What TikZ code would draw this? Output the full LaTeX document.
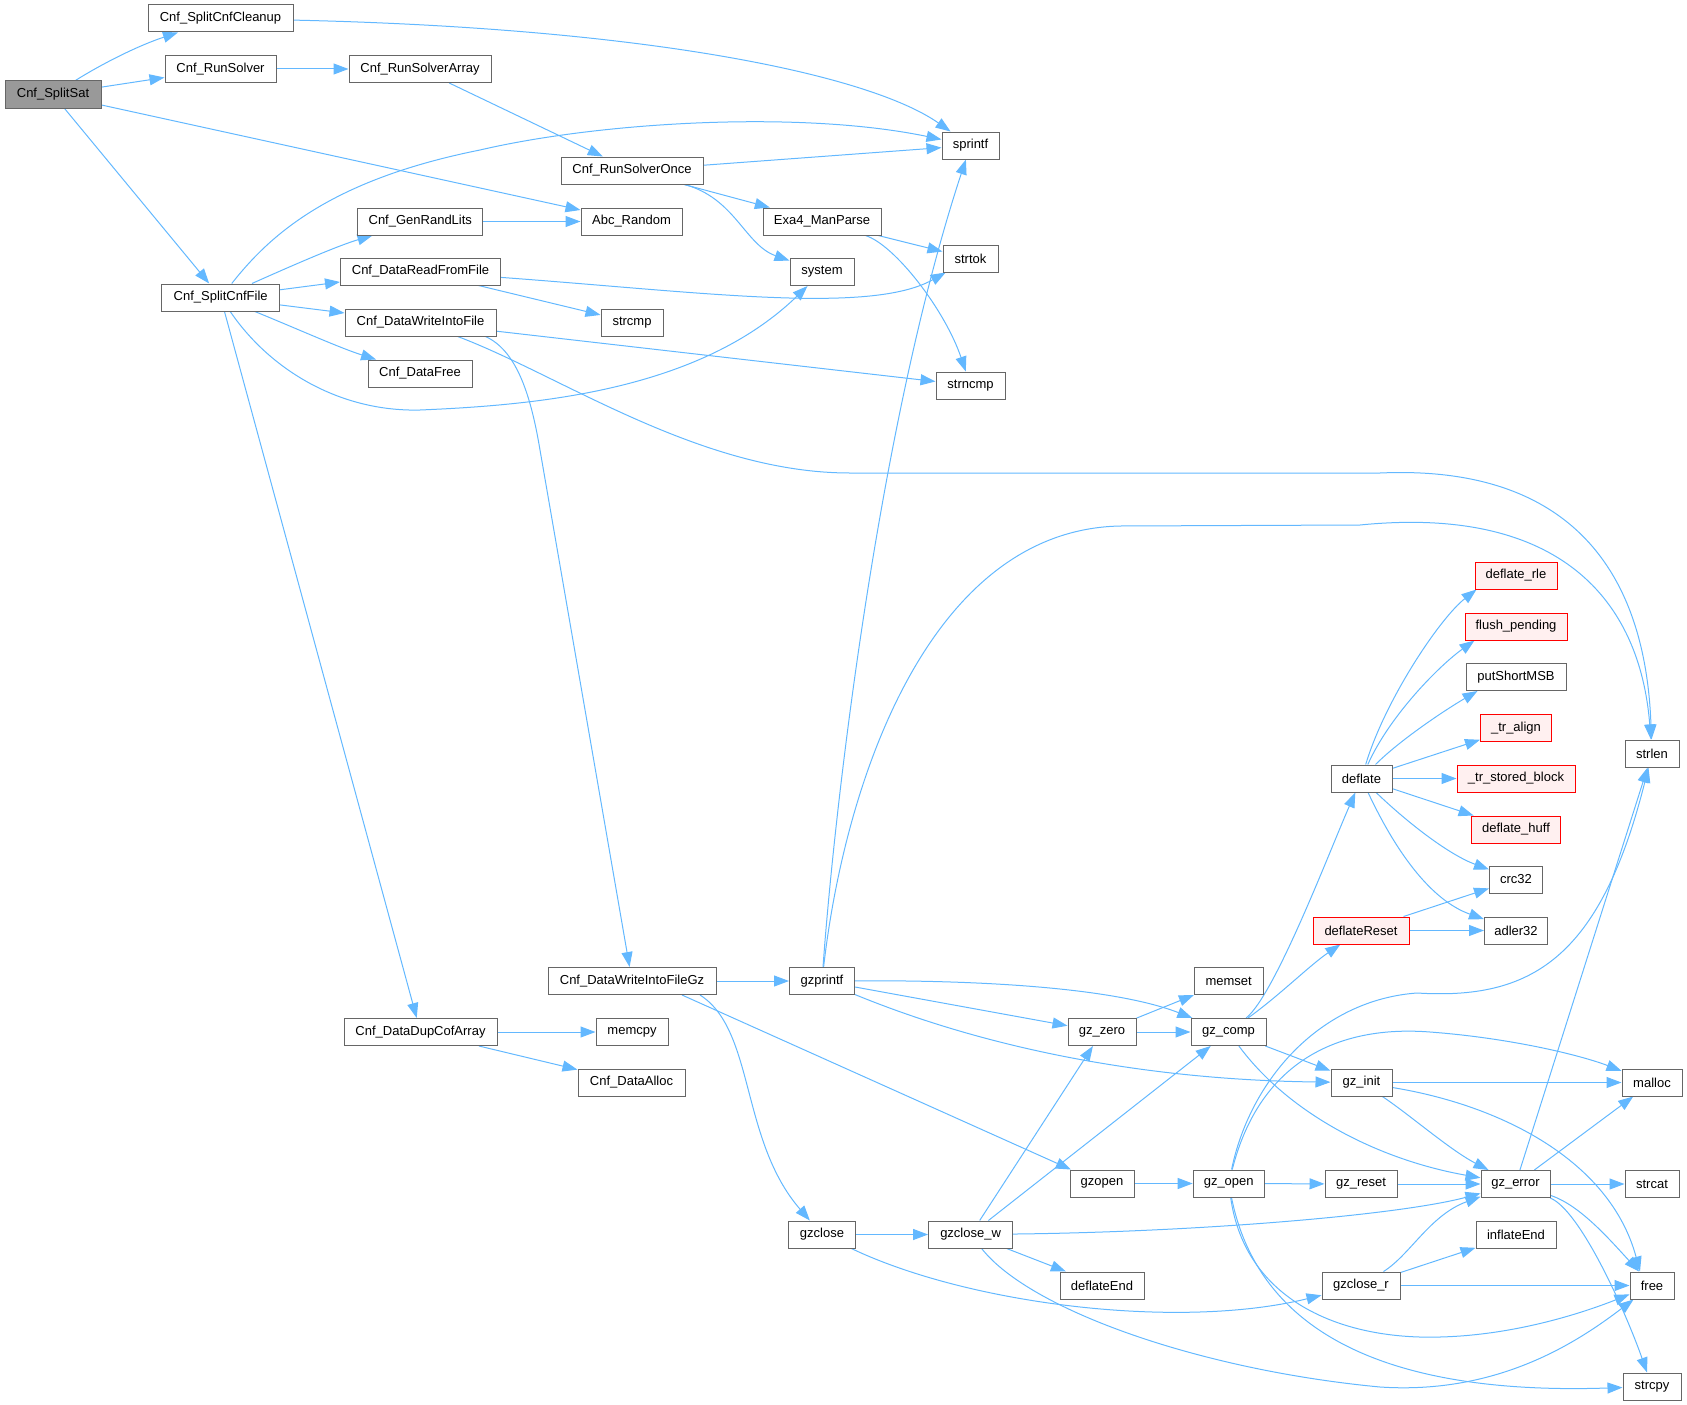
\documentclass[tikz,border=0pt]{standalone}
\usepackage{fontspec}
\setmainfont{Liberation Sans}
\usetikzlibrary{arrows.meta,backgrounds}
\definecolor{edgeblue}{HTML}{63B8FF}
\definecolor{boxgray}{HTML}{666666}
\definecolor{rootgray}{HTML}{999999}
\definecolor{redline}{HTML}{FF0000}
\definecolor{redfill}{HTML}{FFF0F0}
\tikzset{
  fn/.style={draw=boxgray, line width=1pt, fill=white, minimum height=27pt, inner sep=0pt,
    font=\fontsize{13}{15}\selectfont},
  redfn/.style={fn, draw=redline, fill=redfill},
  rootfn/.style={fn, fill=rootgray},
  e/.style={draw=edgeblue, line width=1pt, -{Triangle[length=15pt,width=11pt]}}
}
\begin{document}
\begin{tikzpicture}[x=1pt,y=-1pt]
\useasboundingbox (0,0) rectangle (1687,1405);
% nodes
\node[rootfn,minimum width=96pt] (SplitSat) at (53,94.5) {Cnf\_SplitSat};
\node[fn,minimum width=145pt] (Cleanup) at (220.5,18.5) {Cnf\_SplitCnfCleanup};
\node[fn,minimum width=111pt] (RunSolver) at (220.5,69) {Cnf\_RunSolver};
\node[fn,minimum width=142pt] (RunSolverArray) at (420,69) {Cnf\_RunSolverArray};
\node[fn,minimum width=125pt] (GenRandLits) at (420.3,221.5) {Cnf\_GenRandLits};
\node[fn,minimum width=160pt] (ReadFromFile) at (420.5,271.5) {Cnf\_DataReadFromFile};
\node[fn,minimum width=118pt] (SplitCnfFile) at (220.7,297.5) {Cnf\_SplitCnfFile};
\node[fn,minimum width=151pt] (WriteIntoFile) at (420.5,322.5) {Cnf\_DataWriteIntoFile};
\node[fn,minimum width=104pt] (DataFree) at (420,373.5) {Cnf\_DataFree};
\node[fn,minimum width=57pt] (sprintf) at (970.5,145.5) {sprintf};
\node[fn,minimum width=142pt] (RunSolverOnce) at (632,170.5) {Cnf\_RunSolverOnce};
\node[fn,minimum width=101pt] (AbcRandom) at (631.5,221.5) {Abc\_Random};
\node[fn,minimum width=118pt] (Exa4) at (822,221.5) {Exa4\_ManParse};
\node[fn,minimum width=55pt] (strtok) at (970.5,258.5) {strtok};
\node[fn,minimum width=64pt] (system) at (822,272) {system};
\node[fn,minimum width=62pt] (strcmp) at (632,322.5) {strcmp};
\node[fn,minimum width=69pt] (strncmp) at (970.5,385.5) {strncmp};
\node[redfn,minimum width=82pt] (deflaterle) at (1516,575.5) {deflate\_rle};
\node[redfn,minimum width=102pt] (flushpending) at (1516,626.5) {flush\_pending};
\node[fn,minimum width=100pt] (putShortMSB) at (1516,677) {putShortMSB};
\node[redfn,minimum width=71pt] (tralign) at (1516,728) {\_tr\_align};
\node[redfn,minimum width=118pt] (trstored) at (1516,778.5) {\_tr\_stored\_block};
\node[redfn,minimum width=89pt] (deflatehuff) at (1516,829.5) {deflate\_huff};
\node[fn,minimum width=53pt] (crc32) at (1516,879.5) {crc32};
\node[fn,minimum width=63pt] (adler32) at (1516,930.5) {adler32};
\node[fn,minimum width=61pt] (deflate) at (1361.5,778.5) {deflate};
\node[redfn,minimum width=96pt] (deflateReset) at (1361,930.5) {deflateReset};
\node[fn,minimum width=54pt] (strlen) at (1652,753.5) {strlen};
\node[fn,minimum width=168pt] (WriteIntoFileGz) at (632,981) {Cnf\_DataWriteIntoFileGz};
\node[fn,minimum width=153pt] (DupCofArray) at (420.5,1032) {Cnf\_DataDupCofArray};
\node[fn,minimum width=72pt] (memcpy) at (632,1032) {memcpy};
\node[fn,minimum width=107pt] (DataAlloc) at (631.5,1082.5) {Cnf\_DataAlloc};
\node[fn,minimum width=65pt] (gzprintf) at (822,981) {gzprintf};
\node[fn,minimum width=69pt] (memset) at (1228.7,981) {memset};
\node[fn,minimum width=68pt] (gzzero) at (1102,1032) {gz\_zero};
\node[fn,minimum width=75pt] (gzcomp) at (1228.5,1032) {gz\_comp};
\node[fn,minimum width=64pt] (gzopenF) at (1102,1183.5) {gzopen};
\node[fn,minimum width=71pt] (gzopenI) at (1228.7,1183.5) {gz\_open};
\node[fn,minimum width=67pt] (gzclose) at (822,1234.5) {gzclose};
\node[fn,minimum width=84pt] (gzclosew) at (970.6,1234.5) {gzclose\_w};
\node[fn,minimum width=84pt] (deflateEnd) at (1102,1285.5) {deflateEnd};
\node[fn,minimum width=61pt] (gzinit) at (1361.5,1082.5) {gz\_init};
\node[fn,minimum width=60pt] (malloc) at (1652,1082.5) {malloc};
\node[fn,minimum width=72pt] (gzreset) at (1361,1184) {gz\_reset};
\node[fn,minimum width=69pt] (gzerror) at (1515.5,1184) {gz\_error};
\node[fn,minimum width=54pt] (strcat) at (1652,1184) {strcat};
\node[fn,minimum width=80pt] (inflateEnd) at (1516,1234.5) {inflateEnd};
\node[fn,minimum width=78pt] (gzcloser) at (1361,1285.5) {gzclose\_r};
\node[fn,minimum width=44pt] (free) at (1652,1285.5) {free};
\node[fn,minimum width=58pt] (strcpy) at (1652,1386.5) {strcpy};
% edges
\begin{scope}[on background layer]
\draw[e] (SplitSat) .. controls (105,62) and (140,45) .. (Cleanup);
\draw[e] (SplitSat) -- (RunSolver);
\draw[e] ([yshift=-10.5pt]SplitSat.east) -- ([yshift=11.5pt]AbcRandom.west);
\draw[e] (SplitSat) -- (SplitCnfFile);
\draw[e] (Cleanup) .. controls (650,28) and (870,75) .. (sprintf);
\draw[e] (RunSolver) -- (RunSolverArray);
\draw[e] (RunSolverArray) -- (RunSolverOnce);
\draw[e] (RunSolverOnce) -- (sprintf);
\draw[e] (RunSolverOnce) -- (Exa4);
\draw[e] (RunSolverOnce) .. controls (735,198) and (745,245) .. (system);
\draw[e] (Exa4) -- (strtok);
\draw[e] (Exa4) .. controls (895,245) and (945,310) .. (strncmp);
\draw[e] (SplitCnfFile) .. controls (270,235) and (330,180) .. (480,150) .. controls (600,122) and (800,110) .. (sprintf);
\draw[e] (SplitCnfFile) .. controls (300,262) and (340,245) .. (GenRandLits);
\draw[e] (SplitCnfFile) -- (ReadFromFile);
\draw[e] (SplitCnfFile) -- (WriteIntoFile);
\draw[e] (SplitCnfFile) .. controls (300,330) and (340,348) .. (DataFree);
\draw[e] (SplitCnfFile) .. controls (270,370) and (340,412) .. (420,410) .. controls (540,405) and (700,390) .. (system);
\draw[e] (SplitCnfFile) -- (DupCofArray);
\draw[e] (GenRandLits) -- (AbcRandom);
\draw[e] (ReadFromFile) .. controls (700,292) and (870,315) .. (strtok);
\draw[e] (ReadFromFile) -- (strcmp);
\draw[e] (WriteIntoFile) -- (strncmp);
\draw[e] (WriteIntoFile) .. controls (560,375) and (700,473) .. (850,473) -- (1380,473) .. controls (1560,465) and (1645,560) .. (strlen);
\draw[e] ([xshift=65pt]WriteIntoFile.south) .. controls (515,350) and (530,390) .. (540,450) -- (WriteIntoFileGz);
\draw[e] (DupCofArray) -- (memcpy);
\draw[e] (DupCofArray) -- (DataAlloc);
\draw[e] (WriteIntoFileGz) -- (gzprintf);
\draw[e] ([xshift=50pt]WriteIntoFileGz.south) -- (gzopenF);
\draw[e] ([xshift=68pt]WriteIntoFileGz.south) .. controls (755,1030) and (740,1140) .. (gzclose);
\draw[e] (gzprintf) .. controls (835,800) and (880,420) .. (sprintf);
\draw[e] (gzprintf) .. controls (845,780) and (930,530) .. (1120,526) -- (1360,525) .. controls (1560,505) and (1640,600) .. (strlen);
\draw[e] (gzprintf) .. controls (1000,980) and (1120,990) .. (gzcomp);
\draw[e] (gzprintf) -- (gzzero);
\draw[e] (gzprintf) .. controls (990,1050) and (1150,1080) .. (gzinit);
\draw[e] (gzzero) -- (memset);
\draw[e] (gzzero) -- (gzcomp);
\draw[e] (gzcomp) .. controls (1275,995) and (1330,850) .. (deflate);
\draw[e] (gzcomp) .. controls (1280,995) and (1310,965) .. (deflateReset);
\draw[e] (gzcomp) -- (gzinit);
\draw[e] (gzcomp) .. controls (1290,1115) and (1380,1160) .. (gzerror);
\draw[e] (deflate) .. controls (1385,700) and (1440,618) .. ([xshift=2pt]deflaterle.south west);
\draw[e] (deflate) .. controls (1390,715) and (1440,665) .. ([xshift=10pt]flushpending.south west);
\draw[e] (deflate) .. controls (1400,740) and (1445,710) .. ([xshift=12pt]putShortMSB.south west);
\draw[e] (deflate) -- (tralign);
\draw[e] (deflate) -- (trstored);
\draw[e] (deflate) -- (deflatehuff);
\draw[e] (deflate) .. controls (1410,825) and (1450,855) .. (crc32);
\draw[e] (deflate) .. controls (1395,850) and (1430,900) .. (adler32);
\draw[e] (deflateReset) -- (crc32);
\draw[e] (deflateReset) -- (adler32);
\draw[e] (gzinit) -- (malloc);
\draw[e] (gzinit) .. controls (1410,1115) and (1450,1150) .. (gzerror);
\draw[e] (gzinit) .. controls (1500,1105) and (1610,1160) .. ([xshift=-12pt]free.north);
\draw[e] (gzopenF) -- (gzopenI);
\draw[e] (gzopenI) -- (gzreset);
\draw[e] (gzopenI) .. controls (1250,1080) and (1320,1000) .. (1417,993) .. controls (1530,1000) and (1600,960) .. (strlen);
\draw[e] (gzopenI) .. controls (1260,1060) and (1340,1025) .. (1430,1032) .. controls (1510,1038) and (1580,1055) .. (malloc);
\draw[e] (gzopenI) .. controls (1245,1300) and (1340,1340) .. (1440,1337) .. controls (1520,1335) and (1590,1310) .. (free);
\draw[e] (gzopenI) .. controls (1260,1340) and (1400,1395) .. (strcpy);
\draw[e] (gzreset) -- (gzerror);
\draw[e] (gzerror) -- (strlen);
\draw[e] (gzerror) -- (malloc);
\draw[e] (gzerror) -- (strcat);
\draw[e] (gzerror) .. controls (1580,1205) and (1610,1240) .. (free);
\draw[e] (gzerror) .. controls (1580,1210) and (1625,1310) .. (strcpy);
\draw[e] (gzclose) -- (gzclosew);
\draw[e] (gzclose) .. controls (970,1305) and (1180,1330) .. (gzcloser);
\draw[e] (gzclosew) -- (gzzero);
\draw[e] (gzclosew) -- (gzcomp);
\draw[e] (gzclosew) .. controls (1200,1232) and (1400,1215) .. (gzerror);
\draw[e] (gzclosew) -- (deflateEnd);
\draw[e] (gzclosew) .. controls (1030,1310) and (1200,1370) .. (1380,1387) .. controls (1500,1395) and (1580,1340) .. (free);
\draw[e] (gzcloser) .. controls (1410,1255) and (1430,1215) .. (gzerror);
\draw[e] (gzcloser) -- (inflateEnd);
\draw[e] (gzcloser) -- (free);
\end{scope}
\end{tikzpicture}
\end{document}
